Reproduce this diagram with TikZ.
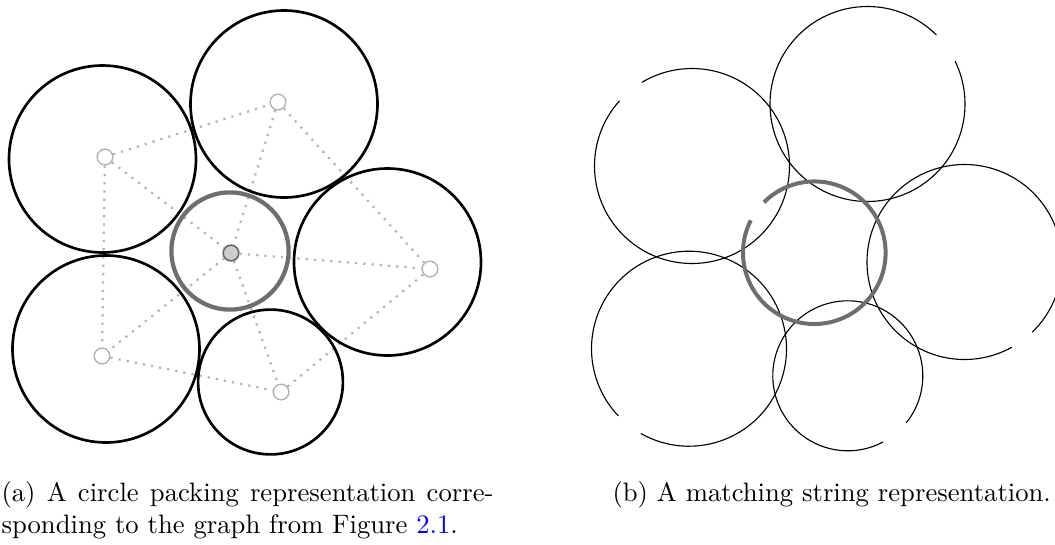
\documentclass[tikz,border=0pt]{standalone}
\usetikzlibrary{positioning}
\definecolor{ringgray}{RGB}{110,110,110}
\definecolor{edgegray}{RGB}{182,182,182}
\definecolor{vertgray}{RGB}{176,176,176}
\definecolor{hubfill}{RGB}{205,205,205}
\definecolor{hubdraw}{RGB}{100,100,100}
\definecolor{linkblue}{RGB}{0,0,255}
\tikzset{
  disk/.style={line width=1.0pt},
  hubdisk/.style={line width=1.6pt,draw=ringgray},
  string/.style={line width=0.42pt},
  hubstring/.style={line width=1.5pt,draw=ringgray},
  vert/.style={circle,draw=vertgray,fill=white,line width=0.5pt,minimum size=5.9pt,inner sep=0pt},
  hub/.style={vert,draw=hubdraw,fill=hubfill,line width=0.6pt},
  link/.style={draw=edgegray,line width=0.85pt,dash pattern=on 0.85pt off 2.25pt},
}

\begin{document}
\begin{tikzpicture}[x=0.375pt,y=0.375pt]
  \useasboundingbox (0,0) rectangle (1055,-544);

  % (a) circle packing with its graph
  \node[vert] (tl) at (105,-157) {};
  \node[vert] (t)  at (278,-102) {};
  \node[vert] (r)  at (430,-269) {};
  \node[vert] (bl) at (102,-356) {};
  \node[vert] (b)  at (281,-392) {};
  \node[hub]  (c)  at (231,-253) {};

  \foreach \u/\v in {tl/t,tl/c,tl/bl,t/c,t/r,c/r,c/bl,c/b,bl/b,b/r}
    \draw[link] (\u) -- (\v);

  \draw[disk] (102.5,-159) circle[radius=93.5];
  \draw[disk] (284,-104)   circle[radius=93.5];
  \draw[disk] (387.5,-262) circle[radius=93.5];
  \draw[disk] (106,-349)   circle[radius=93.5];
  \draw[disk] (270.5,-382) circle[radius=72.4];
  \draw[hubdisk] (230,-251) circle[radius=58.6];

  % (b) strings, each circle with a small gap
  \foreach \cx/\cy/\rr/\a/\e in {692/166/97.5/138/481, 867.5/104/97.5/45/386,
      964.5/262/97.5/-46/299, 689/348.7/97.5/240.4/583.5, 847.8/375.8/75/-39/298}
    \draw[string] (\cx,-\cy) ++(\a:\rr) arc[start angle=\a, end angle=\e, radius=\rr];
  \draw[hubstring] (814.3,-252.7) ++(153:71.3) arc[start angle=153, end angle=495, radius=71.3];

  % captions
  \node[anchor=base west,inner sep=0pt] (capa) at (1,-501)
    {\vtop{\hsize=184.5pt\baselineskip=12.1pt
      \noindent\hbox to\hsize{(a) A circle packing representation corre-}\par
      \noindent sponding to the graph from Figure \textcolor{linkblue}{2.1}.}};
  \node[anchor=base west,inner sep=0pt] (capb) at (612,-501)
    {(b) A matching string representation.};
\end{tikzpicture}
\end{document}
